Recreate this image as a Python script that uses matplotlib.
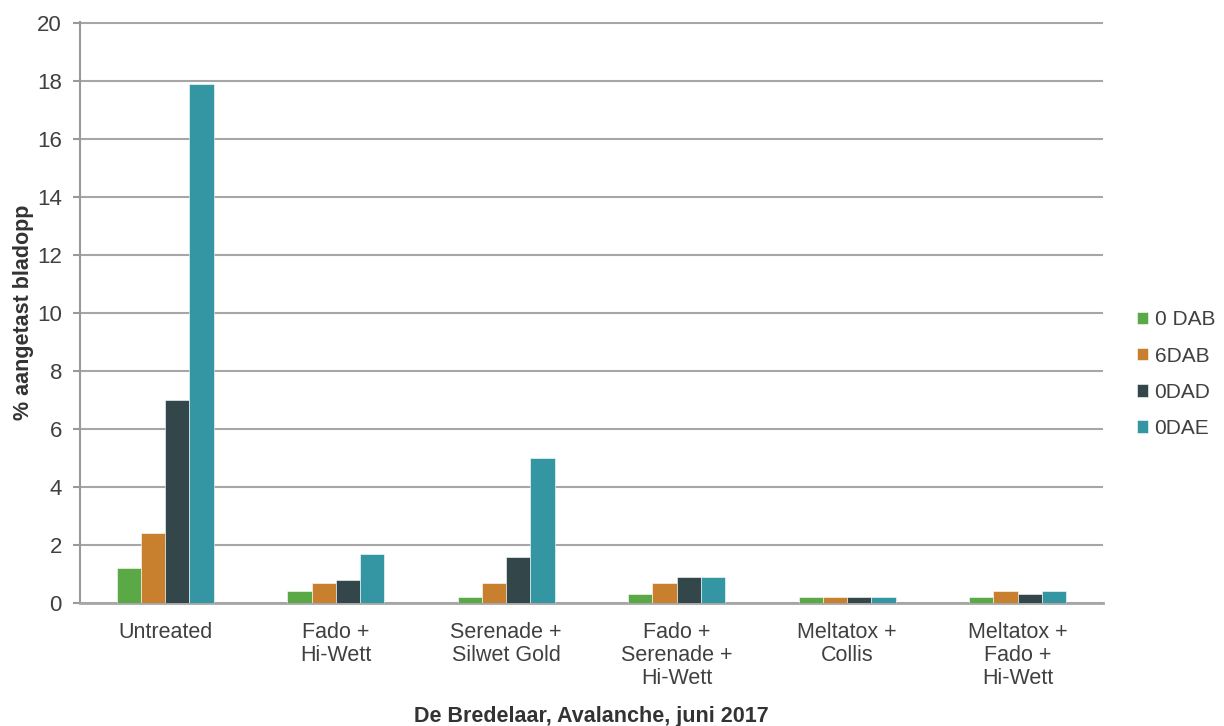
import matplotlib
matplotlib.use("Agg")
import matplotlib.pyplot as plt
import numpy as np

plt.rcParams['font.family'] = ['Liberation Sans', 'DejaVu Sans']

categories = ["Untreated", "Fado +\nHi-Wett", "Serenade +\nSilwet Gold",
              "Fado +\nSerenade +\nHi-Wett", "Meltatox +\nCollis",
              "Meltatox +\nFado +\nHi-Wett"]
series_names = ["0 DAB", "6DAB", "0DAD", "0DAE"]
s_0dab = [1.2, 0.4, 0.2, 0.3, 0.2, 0.2]
s_6dab = [2.4, 0.7, 0.7, 0.7, 0.2, 0.4]
s_0dad = [7.0, 0.8, 1.6, 0.9, 0.2, 0.3]
s_0dae = [17.9, 1.7, 5.0, 0.9, 0.2, 0.4]
yticks = [0, 2, 4, 6, 8, 10, 12, 14, 16, 18, 20]

colors = ["#5aa846", "#c8802e", "#33474a", "#3496a3"]

fig = plt.figure(figsize=(12.24, 7.26), dpi=100)
ax = fig.add_axes([0.0654, 0.1694, 0.8356, 0.8003])

x = np.arange(len(categories))
bw = 0.142
data = [s_0dab, s_6dab, s_0dad, s_0dae]
for i, (vals, name, c) in enumerate(zip(data, series_names, colors)):
    ax.bar(x + (i - 1.5) * bw, vals, width=bw, color=c, label=name,
           edgecolor="white", linewidth=0.4, zorder=3)

ax.set_xlim(-0.5, len(categories) - 0.5)
ax.set_ylim(0, 20.03)
ax.set_yticks(yticks)
ax.set_yticklabels([str(t) for t in yticks], fontsize=16, color="#404040")
ax.set_xticks(x)
ax.set_xticklabels(categories, fontsize=15.5, color="#404040", linespacing=1.12)
ax.tick_params(axis="x", length=0, pad=14)
ax.tick_params(axis="y", length=5, width=1.5, color="#999999", pad=8)
ax.grid(axis="y", color="#a6a6a6", linewidth=1.5, zorder=0)
for s in ["top", "right"]:
    ax.spines[s].set_visible(False)
ax.spines["left"].set_color("#999999")
ax.spines["left"].set_linewidth(1.5)
ax.spines["bottom"].set_color("#a6a6a6")
ax.spines["bottom"].set_linewidth(2)

ax.set_ylabel("% aangetast bladopp", fontsize=15.5, fontweight="bold", color="#333333", labelpad=2)
ax.set_xlabel("De Bredelaar, Avalanche, juni 2017", fontsize=15.5, fontweight="bold", color="#333333", labelpad=12)

leg = ax.legend(loc="center left", bbox_to_anchor=(1.015, 0.394), frameon=False,
                fontsize=15, handlelength=0.55, handleheight=0.55, handletextpad=0.3,
                labelspacing=0.82, labelcolor="#404040")

fig.savefig("out.png", dpi=100)
